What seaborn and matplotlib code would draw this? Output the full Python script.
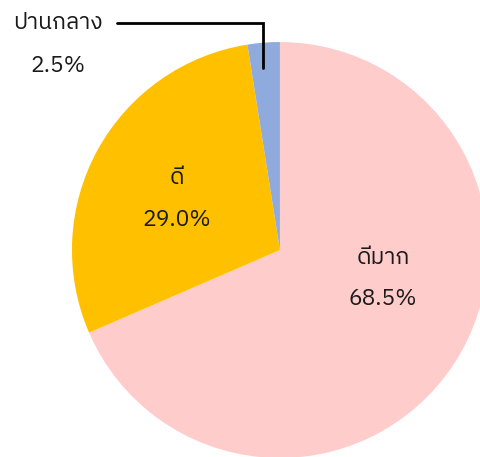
import matplotlib
matplotlib.use("Agg")
import matplotlib.pyplot as plt
import matplotlib.font_manager as fm
from matplotlib.ft2font import FT2Font
import seaborn as sns

# data
categories = ["ดีมาก", "ดี", "ปานกลาง"]
shares = [68.5, 29.0, 2.5]
colors = ["#FFCCCC", "#FFC000", "#8FAADC"]


def find_thai_font():
    """Return a font family that has Thai glyphs, if any is installed"""
    preferred = []
    others = []
    for path in fm.findSystemFonts():
        try:
            cmap = FT2Font(path).get_charmap()
        except Exception:
            continue
        if 0x0E1B in cmap and 0x0E35 in cmap:
            name = fm.FontProperties(fname=path).get_name()
            if "Thai" in name or "Loma" in name or "Garuda" in name:
                preferred.append(name)
            else:
                others.append(name)
    found = preferred + others
    return found[0] if found else "DejaVu Sans"


sns.set_style("white")
thai = find_thai_font()
plt.rcParams["font.family"] = [thai, "DejaVu Sans"]

fig = plt.figure(figsize=(4.8, 4.57), dpi=100)
ax = fig.add_axes([0, 0, 1, 1])

ax.pie(shares, colors=colors, startangle=90, counterclock=False,
       radius=1, wedgeprops=dict(linewidth=0))

# label positions (data units, pie radius = 1): name above, percent below
label_pos = [(0.495, -0.038, -0.236), (-0.495, 0.346, 0.144), (-1.067, 1.092, 0.885)]
for cat, share, (x, y1, y2) in zip(categories, shares, label_pos):
    ax.text(x, y1, cat, ha="center", va="center", fontsize=16.5, color="#1a1a1a")
    ax.text(x, y2, f"{share:.1f}%", ha="center", va="center", fontsize=16.5, color="#1a1a1a")

# leader line for the small slice
ax.plot([-0.784, -0.082, -0.082], [1.091, 1.091, 0.875], color="black", linewidth=2,
        solid_joinstyle="miter")

ax.set_xlim(-1.346, 0.962)
ax.set_ylim(-0.995, 1.202)
ax.set_aspect("equal")
ax.axis("off")

fig.savefig("out.png", dpi=100)
